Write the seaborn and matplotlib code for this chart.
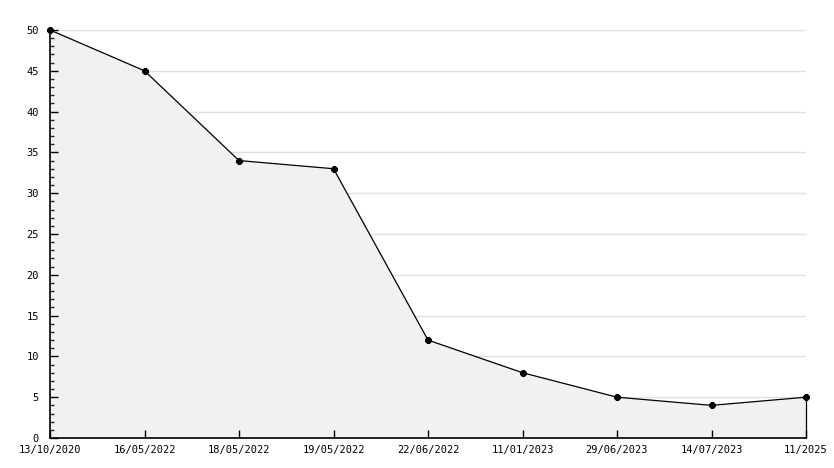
import matplotlib
matplotlib.use("Agg")
import matplotlib.pyplot as plt
import seaborn as sns
import pandas as pd
from matplotlib.ticker import MultipleLocator

dates = ["13/10/2020", "16/05/2022", "18/05/2022", "19/05/2022", "22/06/2022",
         "11/01/2023", "29/06/2023", "14/07/2023", "11/2025"]
values = [50, 45, 34, 33, 12, 8, 5, 4, 5]

df = pd.DataFrame({"pos": range(len(dates)), "value": values})

sns.set_style("white")
plt.rcParams['font.family'] = ['DejaVu Sans Mono', 'DejaVu Sans']

fig = plt.figure(figsize=(8.34, 4.68), dpi=100)
ax = fig.add_axes([50/834, 30/468, 756/834, 408/468])

ax.fill_between(df["pos"], df["value"], 0, color="#f1f1f1", zorder=1)
sns.lineplot(data=df, x="pos", y="value", ax=ax, color="black", linewidth=0.9,
             marker="8", markersize=5, markeredgecolor="black", zorder=3, clip_on=False)
ax.plot([len(dates) - 1, len(dates) - 1], [0, values[-1]], color="black", linewidth=0.9, zorder=3, clip_on=False)

ax.set_xlim(0, len(dates) - 1)
ax.set_ylim(0, 50)
ax.set_xticks(range(len(dates)))
ax.set_xticklabels(dates)
ax.yaxis.set_major_locator(MultipleLocator(5))
ax.yaxis.set_minor_locator(MultipleLocator(1))
ax.grid(False)
for yv in ax.get_yticks():
    if 0 < yv <= 50:
        ax.axhline(yv, color="#e0e0e0", linewidth=1, zorder=0)
ax.set_axisbelow(False)
ax.set_xlabel("")
ax.set_ylabel("")

for s in ["top", "right"]:
    ax.spines[s].set_visible(False)
for s in ["left", "bottom"]:
    ax.spines[s].set_color("black")
    ax.spines[s].set_linewidth(1.2)

ax.tick_params(axis="y", which="major", direction="in", left=True, length=6, width=1, labelsize=7.5, pad=8, colors="black")
ax.tick_params(axis="y", which="minor", direction="in", left=True, length=3, width=1)
ax.tick_params(axis="x", which="major", direction="in", bottom=True, length=6, width=1, labelsize=7.5, pad=5, colors="black")

fig.savefig("out.png", dpi=100)
